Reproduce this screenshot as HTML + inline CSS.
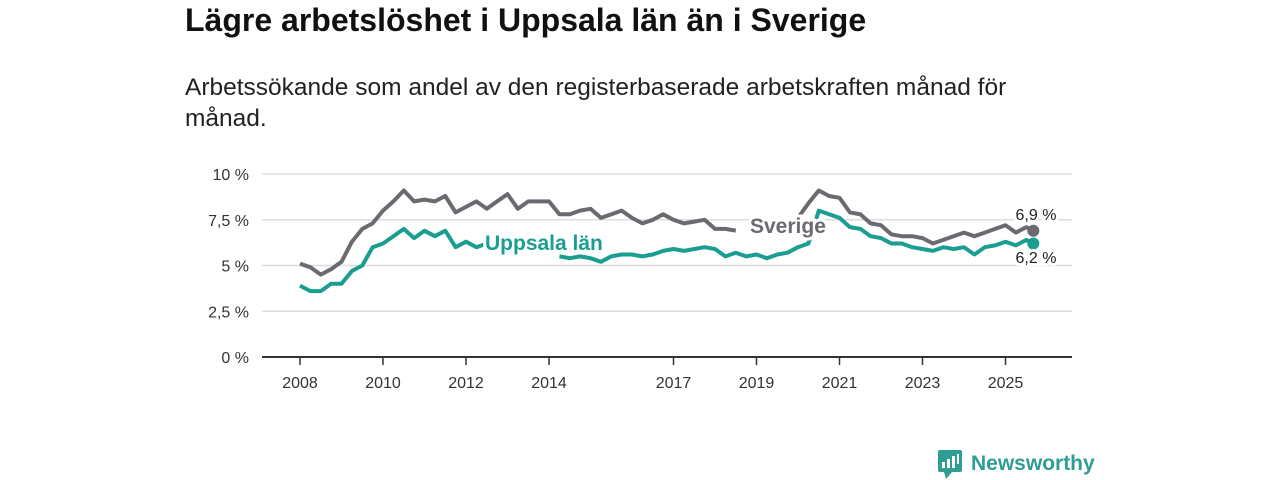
<!DOCTYPE html>
<html><head><meta charset="utf-8"><style>
body{margin:0;width:1280px;height:480px;background:#fff;font-family:"Liberation Sans","DejaVu Sans",sans-serif;overflow:hidden;position:relative}
h1{position:absolute;left:185px;top:2px;margin:0;font-size:32px;font-weight:bold;color:#111;white-space:nowrap}
p{position:absolute;left:185px;top:72px;margin:0;font-size:24.5px;line-height:31px;color:#222;width:850px}
svg{position:absolute;left:0;top:0}
</style></head><body>
<h1>Lägre arbetslöshet i Uppsala län än i Sverige</h1>
<p>Arbetssökande som andel av den registerbaserade arbetskraften månad för månad.</p>
<svg id="chart" width="1280" height="480"></svg>
<script>
const dates=[2008,2008.25,2008.5,2008.75,2009,2009.25,2009.5,2009.75,2010,2010.25,2010.5,2010.75,2011,2011.25,2011.5,2011.75,2012,2012.25,2012.5,2012.75,2013,2013.25,2013.5,2013.75,2014,2014.25,2014.5,2014.75,2015,2015.25,2015.5,2015.75,2016,2016.25,2016.5,2016.75,2017,2017.25,2017.5,2017.75,2018,2018.25,2018.5,2018.75,2019,2019.25,2019.5,2019.75,2020,2020.25,2020.5,2020.75,2021,2021.25,2021.5,2021.75,2022,2022.25,2022.5,2022.75,2023,2023.25,2023.5,2023.75,2024,2024.25,2024.5,2024.75,2025,2025.25,2025.5,2025.67];
const sverige=[5.1,4.9,4.5,4.8,5.2,6.3,7.0,7.3,8.0,8.5,9.1,8.5,8.6,8.5,8.8,7.9,8.2,8.5,8.1,8.5,8.9,8.1,8.5,8.5,8.5,7.8,7.8,8.0,8.1,7.6,7.8,8.0,7.6,7.3,7.5,7.8,7.5,7.3,7.4,7.5,7.0,7.0,6.9,null,null,null,null,null,7.6,8.4,9.1,8.8,8.7,7.9,7.8,7.3,7.2,6.7,6.6,6.6,6.5,6.2,6.4,6.6,6.8,6.6,6.8,7.0,7.2,6.8,7.1,6.9];
const uppsala=[3.9,3.6,3.6,4.0,4.0,4.7,5.0,6.0,6.2,6.6,7.0,6.5,6.9,6.6,6.9,6.0,6.3,6.0,6.2,5.8,null,null,null,null,null,5.5,5.4,5.5,5.4,5.2,5.5,5.6,5.6,5.5,5.6,5.8,5.9,5.8,5.9,6.0,5.9,5.5,5.7,5.5,5.6,5.4,5.6,5.7,6.0,6.2,8.0,7.8,7.6,7.1,7.0,6.6,6.5,6.2,6.2,6.0,5.9,5.8,6.0,5.9,6.0,5.6,6.0,6.1,6.3,6.1,6.4,6.2];
const yTicks=[0,2.5,5,7.5,10];
const yLabels=["0 %","2,5 %","5 %","7,5 %","10 %"];
const xTicks=[2008,2010,2012,2014,2017,2019,2021,2023,2025];
const NS="http://www.w3.org/2000/svg",svg=document.getElementById('chart');
const X=t=>300+(t-2008)*41.5, Y=v=>357-v*18.3;
function mk(tag,a){const e=document.createElementNS(NS,tag);for(const k in a)e.setAttribute(k,a[k]);svg.appendChild(e);return e;}
yTicks.forEach((v,i)=>{
 const l=mk('line',{x1:262,x2:1072,y1:Y(v),y2:Y(v),stroke:v?'#ddd':'#333','stroke-width':v?1.5:2});
 
 const t=mk('text',{x:249,y:Y(v)+6,'text-anchor':'end','font-size':16,fill:'#333'});t.textContent=yLabels[i];
 
});
xTicks.forEach(yr=>{
 const l=mk('line',{x1:X(yr),x2:X(yr),y1:357,y2:365,stroke:'#333','stroke-width':1.5});
 
 const t=mk('text',{x:X(yr),y:388,'text-anchor':'middle','font-size':16,fill:'#333'});t.textContent=yr;
 
});
function line(vals,col,name){
 let d='',pen=false;
 vals.forEach((v,i)=>{if(v===null){pen=false;return;}d+=(pen?'L':'M')+X(dates[i]).toFixed(1)+','+Y(v).toFixed(1);pen=true;});
 const p=mk('path',{d:d,fill:'none',stroke:col,'stroke-width':4,'stroke-linejoin':'round'});
 
 const n=vals.length-1;
 const c=mk('circle',{cx:X(dates[n]),cy:Y(vals[n]),r:6,fill:col});
 
}
line(sverige,'#6b6a70','sverige-line');
line(uppsala,'#1a9e92','uppsala-line');
function lab(x,y,txt,col,size,w,name,anchor){
 const t=mk('text',{x:x,y:y,'font-size':size,'font-weight':w,fill:col,stroke:'#fff','stroke-width':6,'paint-order':'stroke','text-anchor':anchor||'start'});
 t.textContent=txt;
}
lab(485,250,'Uppsala län','#1a9e92',21,'bold','uppsala-label');
lab(750,233,'Sverige','#6b6a70',21,'bold','sverige-label');
lab(1036,220,'6,9 %','#222',16,'normal','sverige-end-value','middle');
lab(1036,263,'6,2 %','#222',16,'normal','uppsala-end-value','middle');
</script>
<svg width="1280" height="480" style="pointer-events:none">
<rect x="938" y="450" width="24" height="22" rx="2" fill="#2f9e92"/>
<polygon points="944,472 952,472 946,479" fill="#2f9e92"/>
<rect x="942" y="462" width="3" height="6" fill="#fff"/><rect x="947" y="459" width="3" height="9" fill="#fff"/><rect x="952" y="456" width="3" height="12" fill="#fff"/><rect x="957" y="454" width="2" height="10" fill="#fff"/>
<text x="971" y="470" font-size="21" font-weight="bold" fill="#2f9e92" font-family="Liberation Sans, sans-serif">Newsworthy</text>
</svg>
</body></html>
